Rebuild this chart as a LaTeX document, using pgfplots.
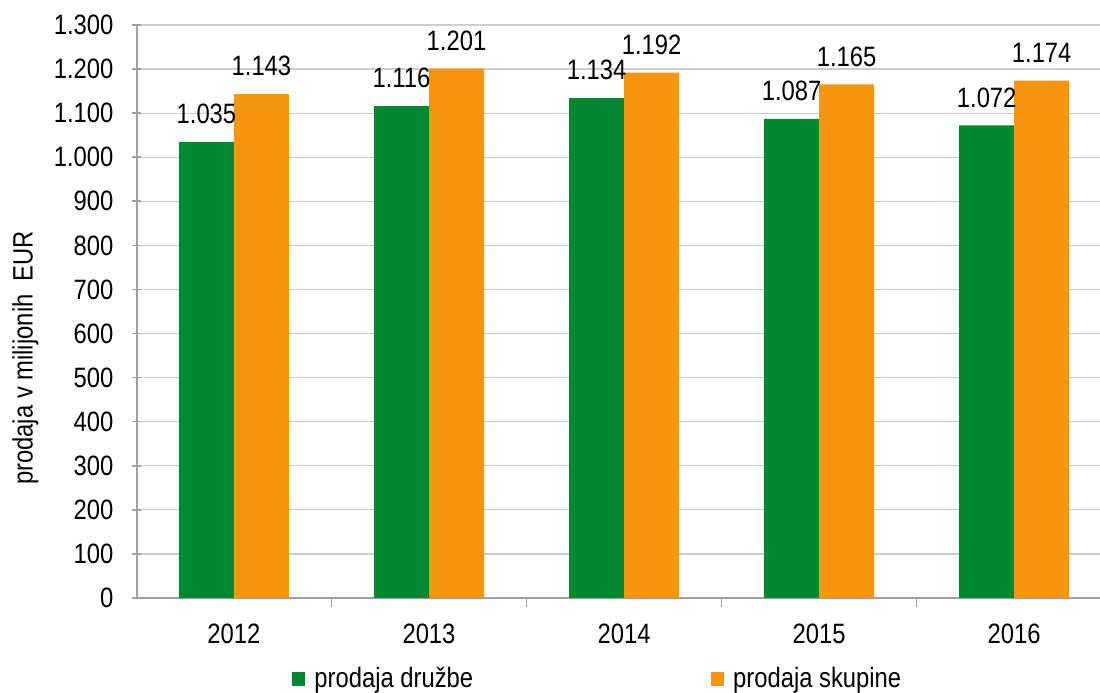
\documentclass[border=0pt]{standalone}
\usepackage{pgfplots}
\pgfplotsset{compat=1.18}
\usepackage{fontspec}
\setmainfont[FakeStretch=0.85]{Liberation Sans}
\definecolor{cgreen}{RGB}{0,137,46}
\definecolor{corange}{RGB}{247,150,14}
\definecolor{cgrid}{RGB}{205,205,205}
\definecolor{caxis}{RGB}{160,160,160}
\begin{document}
\begin{tikzpicture}
\begin{axis}[
  name=ax,
  scale only axis,
  width=481.5pt, height=286.5pt,
  xmin=-0.497, xmax=4.44,
  ymin=0, ymax=1300,
  ytick={0,100,...,1300},
  xtick={0,1,2,3,4},
  xticklabels={2012,2013,2014,2015,2016},
  extra x ticks={-0.5,0.5,1.5,2.5,3.5},
  extra x tick labels={},
  major tick length=4.5pt,
  tick align=outside,
  xtick style={draw=none},
  ytick style={draw=caxis, line width=0.8pt},
  extra x tick style={xtick style={draw=caxis, line width=0.8pt}},
  axis lines=left,
  axis line style={-, caxis, line width=0.8pt},
  ymajorgrids,
  grid style={cgrid, line width=0.6pt},
  font=\fontsize{14}{16}\selectfont,
  /pgf/number format/.cd, 1000 sep={.}, assume math mode=true, fixed, precision=0,
  /pgfplots/.cd,
  yticklabel style={xshift=-6pt},
  xticklabel style={yshift=-5pt},
  ybar=0pt,
  bar width=27.5pt,
  nodes near coords,
  every node near coord/.append style={font=\fontsize{14}{16}\selectfont, yshift=5.5pt},
  ylabel={prodaja v milijonih\ \ EUR},
  ylabel style={at={(axis description cs:-0.116,0.419)}, anchor=center},
  legend columns=2,
  legend style={draw=none, fill=none, at={(0.161,-0.1413)}, anchor=west, inner sep=0pt,
    font=\fontsize{14}{16}\selectfont,
    /tikz/every even column/.append style={column sep=117pt}},
]
\addplot[fill=cgreen, draw=none, legend image code/.code={\fill[cgreen] (0pt,-3.5pt) rectangle (6.5pt,3.5pt); \path (6.5pt,0pt) -- (9pt,0pt);}]
  coordinates {(0,1035) (1,1116) (2,1134) (3,1087) (4,1072)};
\addplot[fill=corange, draw=none, legend image code/.code={\fill[corange] (0pt,-3.5pt) rectangle (6.5pt,3.5pt); \path (6.5pt,0pt) -- (9pt,0pt);}]
  coordinates {(0,1143) (1,1201) (2,1192) (3,1165) (4,1174)};
\legend{prodaja družbe, prodaja skupine}
\end{axis}
\pgfresetboundingbox
\path (ax.south west) ++(-68.5pt,-47.5pt) coordinate (bl);
\path (ax.north east) ++(0pt,12.5pt) coordinate (tr);
\path[use as bounding box] (bl) rectangle (tr);
\end{tikzpicture}
\end{document}
